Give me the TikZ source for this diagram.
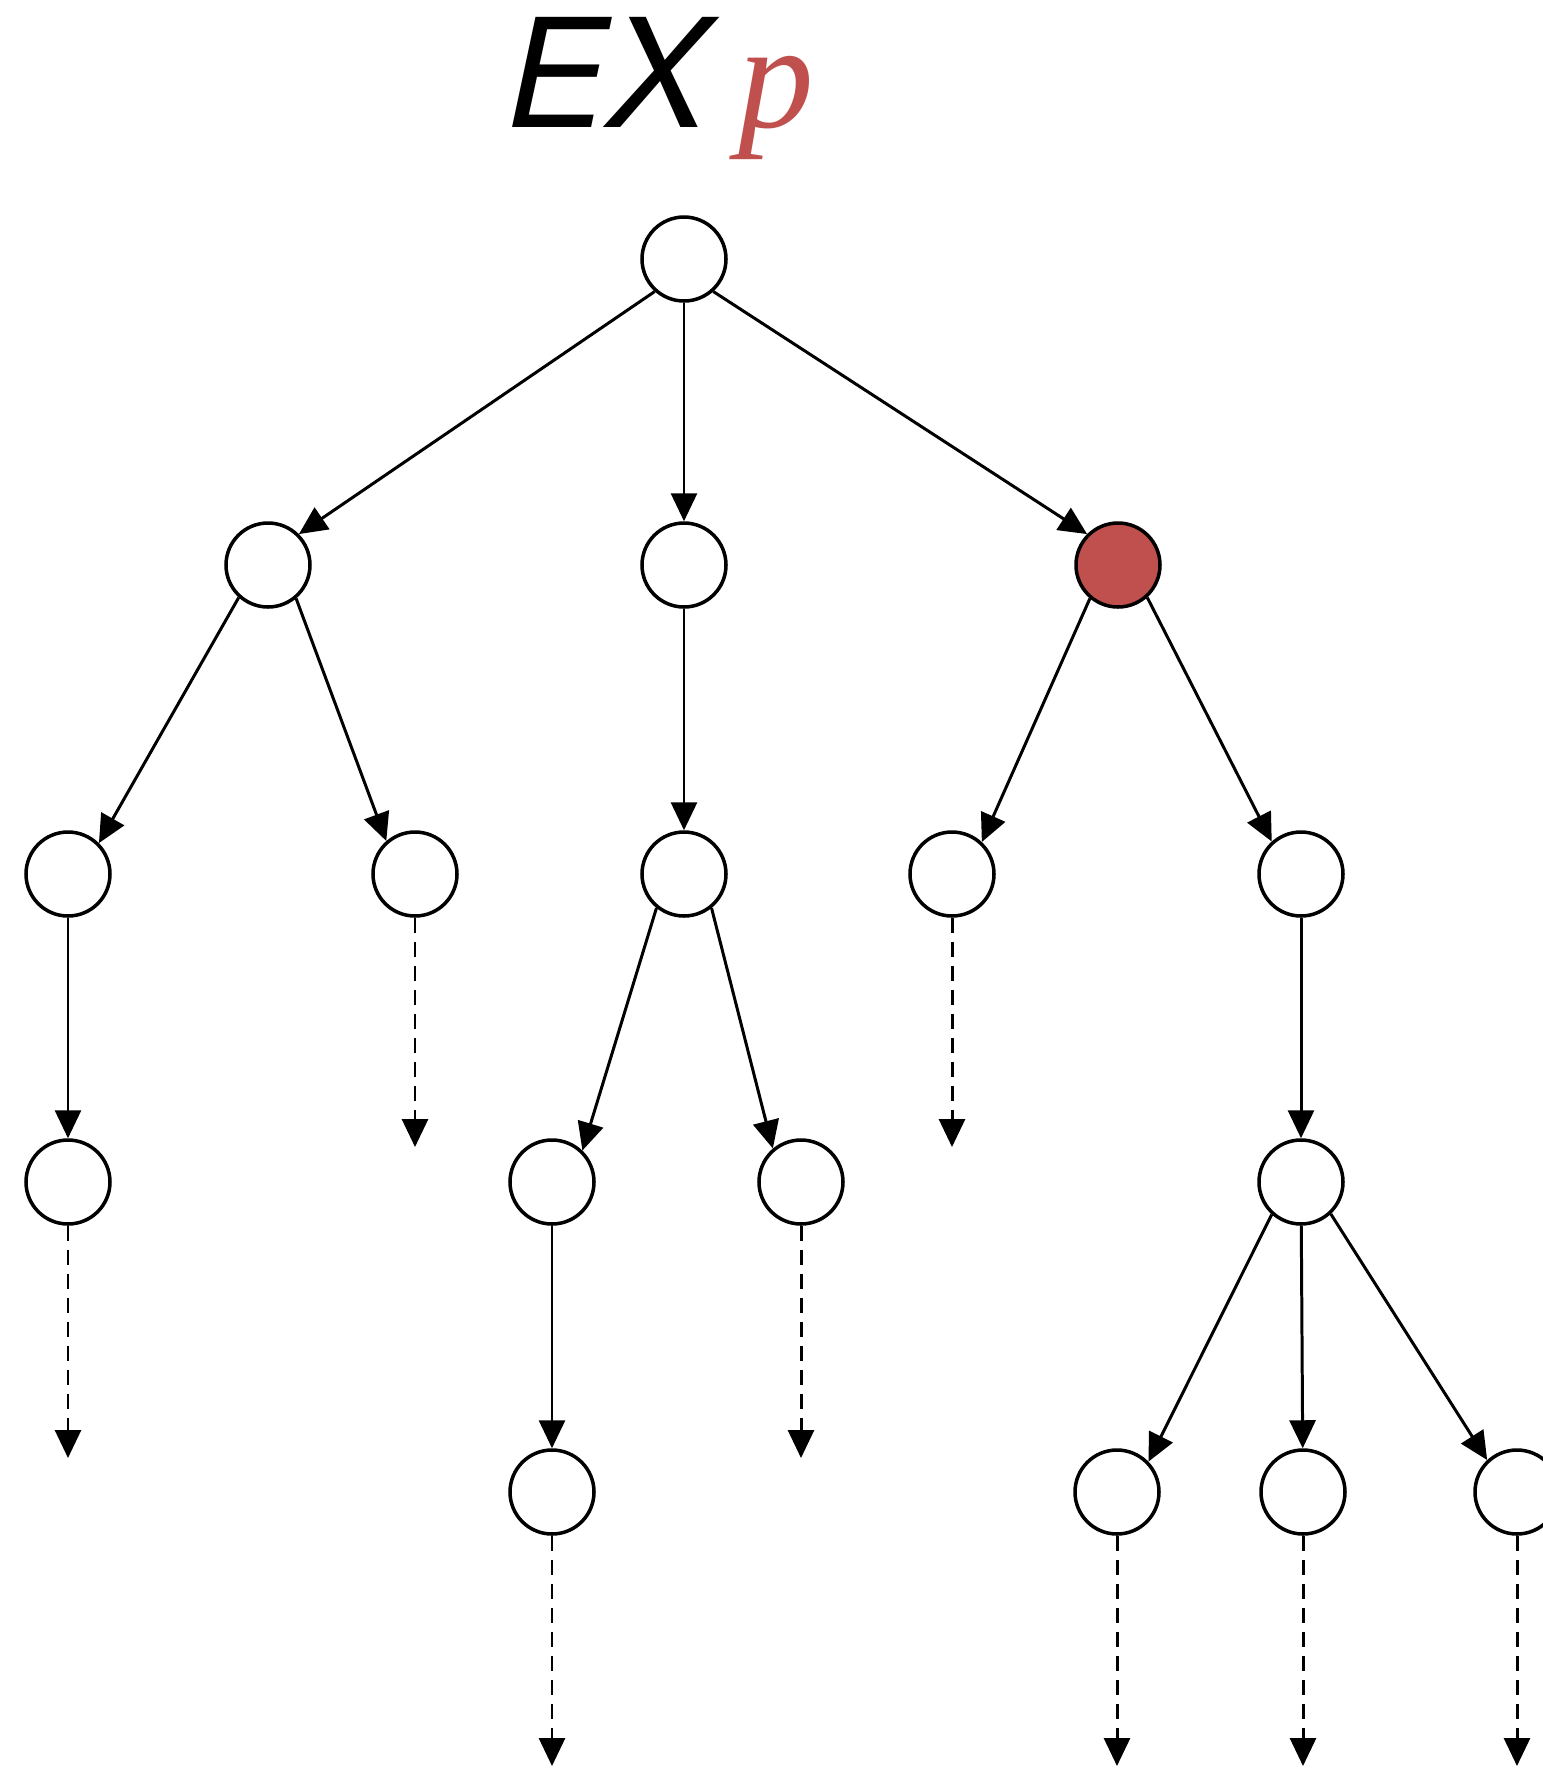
\documentclass[tikz,border=0pt]{standalone}
\usepackage{fontspec}
\usepackage{xcolor}
\usepackage{tikz}
\usetikzlibrary{arrows.meta}
\newfontfamily\titlesans{TeX Gyre Heros}
\newfontfamily\titleserif{Liberation Serif}
\definecolor{pathred}{RGB}{192,80,77}

\begin{document}
\begin{tikzpicture}[x=0.1mm, y=-0.1mm,
  state/.style={circle, draw, line width=1pt, minimum size=8.4mm, inner sep=0pt, fill=white},
  picked/.style={state, fill=pathred},
  link/.style={line width=0.85pt, -{Triangle[length=2.8mm,width=2.6mm]}},
  dangle/.style={link, dash pattern=on 1.5mm off 0.9mm}]
\useasboundingbox (0,0) rectangle (1543,1773);

% heading
\node[anchor=base west, inner sep=0pt] (ex) at (506,127) {\fontsize{43}{43}\selectfont\titlesans\itshape EX};
\node[anchor=base west, inner sep=0pt, text=pathred] (pp) at (738,127) {\fontsize{43}{43}\selectfont\titleserif\itshape p};

% tree nodes
\node[state] (root) at (684,259) {};
\node[state] (a) at (268,565) {};
\node[state] (b) at (684,565) {};
\node[picked] (c) at (1118,565) {};
\node[state] (a1) at (68,874) {};
\node[state] (a2) at (415,874) {};
\node[state] (b1) at (684,874) {};
\node[state] (c1) at (952,874) {};
\node[state] (c2) at (1301,874) {};
\node[state] (a11) at (68,1182) {};
\node[state] (b11) at (552,1182) {};
\node[state] (b12) at (801,1182) {};
\node[state] (c21) at (1301,1182) {};
\node[state] (b111) at (552,1492) {};
\node[state] (c211) at (1117,1492) {};
\node[state] (c212) at (1303,1492) {};
\node[state] (c213) at (1517,1492) {};

% loose ends
\coordinate (a2e) at (415,1147);
\coordinate (c1e) at (952,1147);
\coordinate (a11e) at (68,1458);
\coordinate (b12e) at (801,1458);
\coordinate (b111e) at (552,1766);
\coordinate (c211e) at (1117,1766);
\coordinate (c212e) at (1303,1766);
\coordinate (c213e) at (1517,1766);

% solid edges
\draw[link] (root.228) -- (a.45);
\draw[link] (root) -- (b);
\draw[link] (root.312) -- (c.135);
\draw[link] (a.228) -- (a1.45);
\draw[link] (a.310) -- (a2.131);
\draw[link] (b) -- (b1);
\draw[link] (c.230) -- (c1.47);
\draw[link] (c.312) -- (c2.132);
\draw[link] (a1) -- (a11);
\draw[link] (b1.231) -- (b11.46);
\draw[link] (b1.309) -- (b12.130);
\draw[link] (c2) -- (c21);
\draw[link] (b11) -- (b111);
\draw[link] (c21.228) -- (c211.44);
\draw[link] (c21) -- (c212);
\draw[link] (c21.313) -- (c213.133);

% dashed edges
\draw[dangle] (a2) -- (a2e);
\draw[dangle] (c1) -- (c1e);
\draw[dangle] (a11) -- (a11e);
\draw[dangle] (b12) -- (b12e);
\draw[dangle] (b111) -- (b111e);
\draw[dangle] (c211) -- (c211e);
\draw[dangle] (c212) -- (c212e);
\draw[dangle] (c213) -- (c213e);
\end{tikzpicture}
\end{document}
